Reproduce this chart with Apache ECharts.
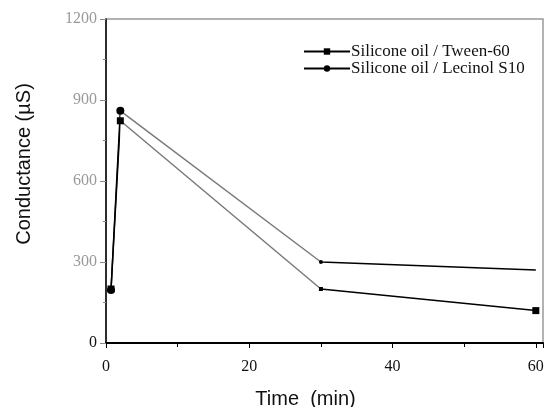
<!DOCTYPE html>
<html>
<head>
<meta charset="utf-8">
<script src="https://cdn.jsdelivr.net/npm/echarts@6/dist/echarts.min.js"></script>
<style>
  html, body { margin: 0; padding: 0; background: #fff; }
  #chart { width: 548px; height: 407px; }
</style>
</head>
<body>
<div id="chart"></div>
<script>
// time in minutes
const timeTween = [0.7, 2, 30, 60]
const tween60 = [200, 823, 200, 120]
const timeLecinol = [0.7, 2, 30, 60]
const lecinolS10 = [196, 860, 300, 270]

const seriesNames = ['Silicone oil / Tween-60', 'Silicone oil / Lecinol S10']

const chart = echarts.init(document.getElementById('chart'))

const pair = (xs, ys) => xs.map((x, i) => [x, ys[i]])

const option = {
  animation: false,
  grid: {
    left: 106,
    right: 5,
    top: 19,
    bottom: 64,
    outerBoundsMode: 'none',
    show: true,
    borderColor: '#999',
    borderWidth: 1.5
  },
  legend: {
    orient: 'vertical',
    left: 298,
    top: 38,
    itemWidth: 46,
    itemHeight: 8,
    itemGap: 0,
    data: seriesNames,
    textStyle: {
      fontFamily: 'Liberation Serif',
      fontSize: 17,
      color: '#111',
      padding: [0, 0, 0, -4]
    }
  },
  // black outer segments, grey middle run
  visualMap: {
    show: false,
    type: 'piecewise',
    dimension: 0,
    pieces: [
      { lte: 2, color: '#000' },
      { gt: 2, lt: 30, color: '#7a7a7a' },
      { gte: 30, color: '#000' }
    ]
  },
  xAxis: {
    type: 'value',
    min: 0,
    max: 61,
    interval: 20,
    name: 'Time  (min)',
    nameLocation: 'middle',
    nameGap: 46,
    nameTextStyle: {
      fontFamily: 'Liberation Sans',
      fontSize: 20,
      color: '#111',
      padding: [0, 38, 0, 0]
    },
    axisLine: { lineStyle: { color: '#000', width: 2 } },
    axisTick: { inside: false, length: 5, lineStyle: { color: '#000' } },
    minorTick: { show: true, splitNumber: 2, length: 4, lineStyle: { color: '#000' } },
    splitLine: { show: false },
    axisLabel: {
      fontFamily: 'Liberation Serif',
      fontSize: 16,
      color: '#111',
      margin: 16,
      formatter: v => (v % 20 === 0 ? String(v) : '')
    }
  },
  yAxis: {
    type: 'value',
    min: 0,
    max: 1200,
    interval: 300,
    name: 'Conductance (µS)',
    nameLocation: 'middle',
    nameGap: 72,
    nameTextStyle: {
      fontFamily: 'Liberation Sans',
      fontSize: 20,
      color: '#111',
      padding: [0, 0, 0, 34]
    },
    axisLine: { lineStyle: { color: '#000', width: 1.5 } },
    axisTick: { length: 6, lineStyle: { color: '#888' } },
    minorTick: { show: true, splitNumber: 2, length: 3, lineStyle: { color: '#888' } },
    splitLine: { show: false },
    axisLabel: {
      fontFamily: 'Liberation Serif',
      fontSize: 16,
      margin: 9,
      formatter: v => String(v),
      color: v => (Number(v) === 0 ? '#111' : '#999')
    }
  },
  series: [
    {
      name: seriesNames[0],
      type: 'line',
      data: pair(timeTween, tween60),
      symbol: 'rect',
      symbolSize: v => (v[0] === 30 ? 4 : 7),
      lineStyle: { width: 1.5 },
      itemStyle: { color: '#000' }
    },
    {
      name: seriesNames[1],
      type: 'line',
      data: pair(timeLecinol, lecinolS10),
      symbol: 'circle',
      symbolSize: v => (v[0] === 30 ? 4 : v[0] === 60 ? 0 : 8),
      lineStyle: { width: 1.5 },
      itemStyle: { color: '#000' }
    }
  ]
}

chart.setOption(option)
</script>
</body>
</html>
